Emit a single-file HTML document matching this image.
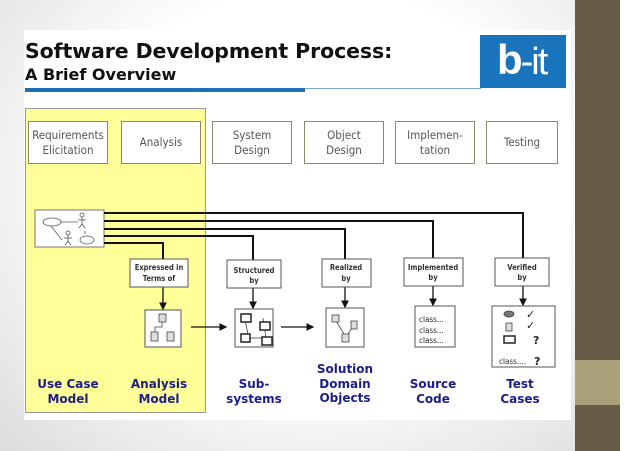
<!DOCTYPE html>
<html><head><meta charset="utf-8"><style>
body{margin:0;width:638px;height:451px;overflow:hidden;background:#fff;font-family:"Liberation Sans",sans-serif}
#bg{position:absolute;left:0;top:0;width:575px;height:451px;background:radial-gradient(ellipse at 55% 40%,#fff 50%,#dcdcdc 100%)}
.a{position:absolute}
.ph{position:absolute;top:121px;width:80px;height:43px;border:1px solid #8a8a6a;background:#fff;font-size:11.5px;color:#555;display:flex;align-items:center;justify-content:center;text-align:center;line-height:15px;box-sizing:border-box;font-family:"DejaVu Sans Condensed","Liberation Sans",sans-serif}
.lb{font-family:"DejaVu Sans Condensed","Liberation Sans",sans-serif;font-size:7.5px;font-weight:bold;fill:#333}
.bl{position:absolute;color:#1c1c8a;font-weight:bold;font-size:12px;line-height:14.5px;text-align:center;width:90px;font-family:"DejaVu Sans","Liberation Sans",sans-serif}
</style></head><body>
<div id="bg"></div>
<div class="a" style="left:24px;top:30px;width:547px;height:390px;background:#fff"></div>
<div class="a" style="left:575px;top:0;width:45px;height:451px;background:#675c46"></div>
<div class="a" style="left:575px;top:360px;width:45px;height:45px;background:#a8a078"></div>
<div class="a" style="left:25px;top:39px;font-size:20.5px;font-weight:bold;color:#111;font-family:'DejaVu Sans',sans-serif;letter-spacing:-0.1px">Software Development Process:</div>
<div class="a" style="left:25px;top:65px;font-size:16px;font-weight:bold;color:#111;font-family:'DejaVu Sans',sans-serif">A Brief Overview</div>
<div class="a" style="left:25px;top:88px;width:280px;height:4px;background:#1f6fb5"></div>
<div class="a" style="left:305px;top:88px;width:176px;height:1px;background:#7aaacc"></div>
<div class="a" style="left:480px;top:35px;width:86px;height:53px;background:#1a74bb"></div>
<div class="a" style="left:497px;top:36px;font-size:42px;color:#fff;font-weight:bold;letter-spacing:-2px;font-family:'Liberation Sans Narrow','Liberation Sans',sans-serif">b<span style="font-weight:normal;font-size:38px">-it</span></div>
<div class="a" style="left:25px;top:108px;width:181px;height:305px;background:#ffff99;border:1px solid #999;box-sizing:border-box"></div>
<div class="ph" style="left:28px">Requirements<br>Elicitation</div>
<div class="ph" style="left:121px">Analysis</div>
<div class="ph" style="left:212px">System<br>Design</div>
<div class="ph" style="left:304px">Object<br>Design</div>
<div class="ph" style="left:395px">Implemen-<br>tation</div>
<div class="ph" style="left:486px;width:72px">Testing</div>
<svg class="a" style="left:0;top:0" width="638" height="451">
<defs><marker id="ar" markerWidth="6" markerHeight="6" refX="5" refY="3" orient="auto"><path d="M0,0L6,3L0,6z" fill="#111"/></marker></defs>
<rect x="35" y="210" width="69" height="37" fill="#fff" stroke="#777"/>
<g stroke="#555" fill="none" stroke-width="0.8">
<ellipse cx="52" cy="222" rx="9" ry="4"/><line x1="61" y1="222" x2="78" y2="222"/>
<circle cx="82" cy="215" r="2"/><line x1="82" y1="217" x2="82" y2="224"/><line x1="78" y1="220" x2="86" y2="220"/><line x1="82" y1="224" x2="79" y2="228"/><line x1="82" y1="224" x2="85" y2="228"/>
<line x1="51" y1="226" x2="62" y2="240"/>
<circle cx="68" cy="233" r="2"/><line x1="68" y1="235" x2="68" y2="241"/><line x1="64" y1="238" x2="72" y2="238"/><line x1="68" y1="241" x2="65" y2="245"/><line x1="68" y1="241" x2="71" y2="245"/>
<ellipse cx="87" cy="240" rx="7" ry="4"/><line x1="85" y1="231" x2="85" y2="234"/>
</g>
<g stroke="#111" stroke-width="2" fill="none">
<polyline points="104,213 523,213 523,258"/>
<polyline points="104,221 433,221 433,258"/>
<polyline points="104,229 345,229 345,259"/>
<polyline points="104,236 253,236 253,260"/>
<polyline points="104,243 163,243 163,259"/>
</g>
<g stroke="#111" stroke-width="1.3">
<line x1="163" y1="287" x2="163" y2="309" marker-end="url(#ar)"/>
<line x1="253" y1="288" x2="253" y2="308" marker-end="url(#ar)"/>
<line x1="345" y1="287" x2="345" y2="307" marker-end="url(#ar)"/>
<line x1="433" y1="286" x2="433" y2="305" marker-end="url(#ar)"/>
<line x1="523" y1="286" x2="523" y2="305" marker-end="url(#ar)"/>
<line x1="191" y1="327" x2="226" y2="327" marker-end="url(#ar)"/>
<line x1="281" y1="327" x2="313" y2="327" marker-end="url(#ar)"/>
</g>
<g fill="#fff" stroke="#555">
<rect x="130" y="259" width="58" height="28"/><rect x="227" y="260" width="54" height="28"/>
<rect x="322" y="259" width="49" height="28"/><rect x="404" y="258" width="59" height="28"/>
<rect x="495" y="258" width="54" height="28"/>
<rect x="145" y="310" width="36" height="37"/><rect x="235" y="309" width="38" height="38"/>
<rect x="326" y="308" width="38" height="39"/><rect x="415" y="306" width="40" height="41"/>
<rect x="492" y="306" width="63" height="61"/>
</g>
<g class="lb" text-anchor="middle">
<text x="159" y="270">Expressed in</text><text x="159" y="281">Terms of</text>
<text x="254" y="273">Structured</text><text x="254" y="283">by</text>
<text x="346" y="270">Realized</text><text x="346" y="281">by</text>
<text x="433" y="270">Implemented</text><text x="433" y="280">by</text>
<text x="522" y="270">Verified</text><text x="522" y="280">by</text>
</g>
<g stroke="#444" fill="#ddd" stroke-width="0.8">
<rect x="159" y="314" width="7" height="8"/><rect x="151" y="332" width="7" height="9"/><rect x="167" y="332" width="7" height="9"/>
<polyline fill="none" points="162,322 162,327 155,327 155,332 M162,327 170,327 170,332"/>
<line x1="263" y1="318" x2="266" y2="338"/><line x1="250" y1="338" x2="263" y2="338"/><line x1="245" y1="320" x2="248" y2="334"/>
<rect x="241" y="314" width="10" height="8" fill="#fff" stroke="#222" stroke-width="1.5"/><rect x="260" y="322" width="10" height="8" fill="#fff" stroke="#222" stroke-width="1.5"/>
<rect x="241" y="334" width="9" height="8" fill="#fff" stroke="#222" stroke-width="1.5"/><rect x="262" y="337" width="10" height="8" fill="#fff" stroke="#222" stroke-width="1.5"/>
<line x1="336" y1="321" x2="344" y2="334"/><line x1="348" y1="334" x2="354" y2="325"/>
<rect x="332" y="315" width="7" height="7"/><rect x="351" y="321" width="6" height="8"/><rect x="342" y="334" width="7" height="8"/>
<ellipse cx="509" cy="314" rx="5" ry="3" fill="#777"/><rect x="506" y="323" width="6" height="8"/>
<rect x="504" y="336" width="11" height="7" fill="#fff" stroke="#222" stroke-width="1.5"/>
</g>
<g font-family="DejaVu Sans Condensed,Liberation Sans" font-size="8" fill="#222">
<text x="419" y="322">class...</text><text x="419" y="333">class...</text><text x="419" y="343">class...</text>
<text x="499" y="364">class....</text>
</g>
<g font-size="11" font-weight="bold" fill="#222" font-family="DejaVu Sans">
<text x="526" y="318">✓</text><text x="526" y="329">✓</text><text x="533" y="344">?</text><text x="534" y="365">?</text>
</g>
</svg>
<div class="bl" style="left:23px;top:377px">Use Case<br>Model</div>
<div class="bl" style="left:114px;top:377px">Analysis<br>Model</div>
<div class="bl" style="left:209px;top:377px">Sub-<br>systems</div>
<div class="bl" style="left:300px;top:362px">Solution<br>Domain<br>Objects</div>
<div class="bl" style="left:388px;top:377px">Source<br>Code</div>
<div class="bl" style="left:475px;top:377px">Test<br>Cases</div>
</body></html>
